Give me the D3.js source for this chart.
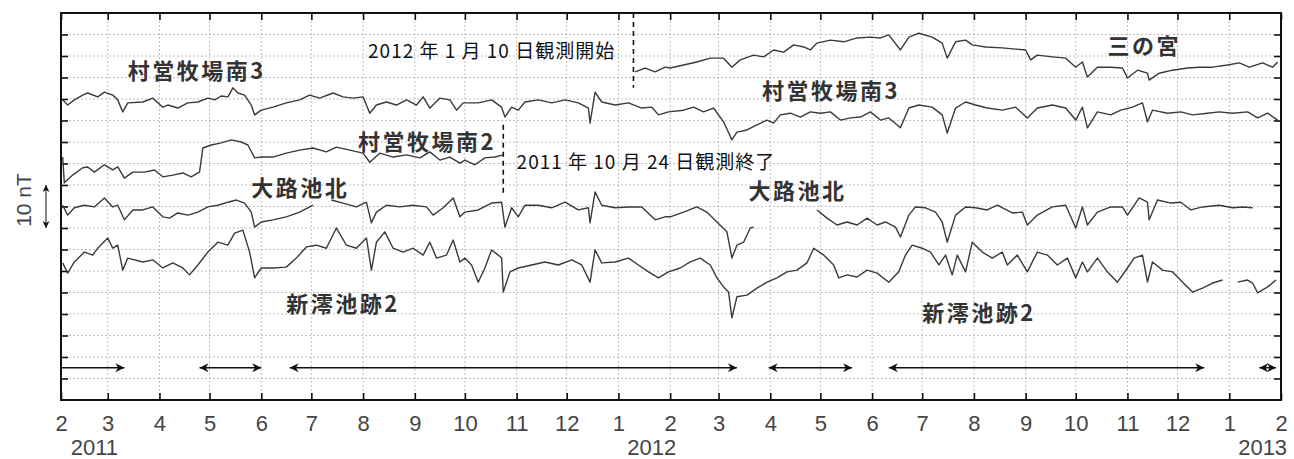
<!DOCTYPE html>
<html>
<head>
<meta charset="utf-8">
<script src="https://cdn.jsdelivr.net/npm/d3@7"></script>
<style>
  body { margin: 0; background: #fff; }
</style>
</head>
<body>
<div id="chart"></div>
<script>
// time axis: Feb 2011 .. Feb 2013, points are [days since 2011-02-01, nT]
const START = new Date(Date.UTC(2011, 1, 1));
const END = new Date(Date.UTC(2013, 1, 1));

// 村営牧場南3
const muraei3 = [[1,69.8],[4,68.6],[8,69.8],[13,70.9],[16,71.4],[22,70.5],[26,71.6],[31,70.9],[34,69.8],[37,67.0],[40,69.1],[49,69.3],[55,70.2],[61,68.1],[64,68.6],[70,67.9],[76,69.1],[82,69.3],[88,70.2],[92,69.8],[96,70.7],[100,70.5],[103,72.6],[106,71.4],[110,70.9],[114,68.6],[116,66.3],[120,67.4],[127,68.1],[135,69.1],[143,69.8],[149,70.9],[155,70.2],[163,71.4],[169,70.5],[175,70.2],[181,70.5],[185,66.7],[189,68.6],[195,69.3],[201,68.6],[207,69.8],[213,68.6],[217,70.5],[221,67.9],[227,70.2],[233,69.8],[237,67.4],[241,69.1],[250,69.1],[258,69.8],[264,68.1],[266,65.8],[270,68.1],[274,67.4],[278,69.3],[286,69.8],[294,69.1],[302,69.8],[310,69.1],[316,67.9],[317,64.4],[320,71.6],[324,69.3],[332,68.6],[340,69.1],[348,67.9],[354,68.1],[358,66.3],[364,67.0],[373,67.4],[379,68.1],[385,67.0],[391,67.9],[397,64.7],[402,60.5],[405,62.3],[411,62.8],[417,64.0],[423,65.1],[427,64.4],[431,66.3],[437,66.7],[443,65.8],[449,67.0],[455,66.7],[461,67.0],[467,65.1],[473,65.6],[479,65.8],[485,67.0],[491,65.1],[496,65.6],[503,63.3],[508,67.9],[514,68.6],[522,68.1],[528,66.3],[531,62.1],[536,67.9],[542,69.3],[548,68.6],[555,67.9],[564,67.4],[572,68.1],[579,65.6],[585,67.9],[594,68.6],[602,67.9],[608,65.1],[612,68.1],[615,63.3],[621,67.0],[629,66.3],[635,67.4],[642,68.1],[648,69.1],[651,64.7],[654,67.4],[663,66.7],[671,67.0],[678,66.3],[687,66.7],[694,67.0],[702,66.7],[711,67.0],[717,65.6],[723,66.7],[729,65.1]];

// 三の宮 (from 2012-01-10)
const sannomiya = [[344,76.3],[350,77.2],[356,76.3],[362,77.4],[365,77.2],[373,77.9],[381,78.6],[389,79.5],[397,79.5],[402,77.4],[407,79.1],[415,80.2],[421,79.8],[427,81.4],[433,80.9],[439,82.6],[445,82.1],[449,81.4],[453,83.0],[461,83.7],[469,83.3],[477,84.2],[485,84.4],[491,84.2],[496,84.9],[503,81.4],[508,84.4],[514,85.3],[522,84.4],[528,83.0],[531,79.5],[536,83.3],[542,83.7],[546,82.6],[554,82.1],[564,81.9],[572,81.6],[578,81.4],[581,79.1],[585,80.2],[594,79.8],[602,79.5],[608,77.4],[612,78.6],[615,75.1],[621,77.4],[629,77.4],[636,77.2],[639,74.9],[645,76.7],[651,76.0],[652,74.4],[658,76.0],[666,76.7],[675,77.2],[682,77.4],[690,77.4],[699,77.9],[706,78.4],[712,77.4],[720,78.4],[726,77.4],[729,78.6]];

// 村営牧場南2 (until 2011-10-24)
const muraei2 = [[1,56.5],[2,50.5],[7,52.3],[13,54.0],[16,54.2],[20,53.0],[26,54.7],[31,53.5],[34,54.2],[38,51.6],[43,53.0],[50,53.0],[56,53.5],[61,51.9],[67,52.3],[73,52.8],[78,51.9],[83,53.0],[85,58.6],[90,59.3],[96,59.8],[102,60.5],[108,60.0],[112,59.3],[116,56.3],[120,56.5],[127,56.5],[135,57.4],[143,58.1],[151,58.6],[159,57.7],[165,58.8],[173,58.1],[181,57.4],[185,55.3],[191,57.4],[199,56.5],[207,57.0],[215,56.3],[221,57.7],[227,55.8],[233,56.5],[239,55.1],[242,55.8],[248,54.7],[254,56.3],[260,56.5],[265,57.0]];

// 大路池北 (null = no data)
const ojiike = [[1,45.3],[4,43.0],[8,44.7],[14,45.3],[20,44.9],[26,47.0],[31,44.9],[34,45.3],[38,41.9],[43,44.2],[49,44.2],[55,44.9],[61,42.6],[65,42.3],[70,43.5],[76,43.0],[82,43.7],[88,44.9],[94,45.3],[100,46.0],[105,46.5],[110,45.8],[114,43.7],[116,40.2],[120,41.4],[127,41.9],[135,42.6],[143,43.7],[151,45.3],[155,null],[162,46.5],[169,45.8],[177,44.9],[183,46.0],[186,41.2],[189,43.7],[195,45.3],[203,44.9],[211,45.3],[219,44.9],[223,43.0],[229,44.7],[235,47.0],[239,42.6],[242,43.7],[250,44.2],[258,45.8],[264,46.0],[266,40.2],[270,44.7],[274,42.6],[278,45.3],[286,45.3],[294,44.7],[302,46.0],[310,44.2],[316,44.7],[317,41.2],[320,48.4],[324,45.3],[332,44.7],[340,44.9],[348,44.9],[356,41.9],[362,42.6],[365,42.6],[373,43.7],[381,44.9],[387,43.7],[393,41.4],[399,39.1],[402,33.0],[405,36.0],[409,36.7],[413,40.0],[415,40.2],[430,null],
  [453,44.2],[459,42.3],[465,40.7],[471,41.4],[477,40.7],[483,42.3],[489,40.7],[494,41.4],[500,40.2],[503,37.9],[508,43.0],[512,44.9],[518,44.7],[524,43.7],[528,41.4],[531,36.7],[536,43.0],[542,44.9],[548,44.7],[555,44.2],[561,45.3],[570,43.5],[576,43.7],[579,40.7],[585,43.0],[594,44.9],[602,45.3],[608,40.0],[612,44.9],[615,40.7],[621,43.7],[629,44.9],[636,44.9],[639,43.0],[646,47.0],[651,46.0],[652,41.9],[657,46.5],[665,45.8],[671,46.0],[677,44.2],[684,44.9],[694,45.3],[702,44.7],[708,44.9],[714,44.7]];

// 新澪池跡2
const niizawa2 = [[1,31.9],[4,29.5],[8,32.1],[14,34.4],[19,33.7],[22,35.3],[28,37.7],[31,35.3],[34,36.0],[37,30.2],[40,33.0],[49,32.1],[55,32.6],[61,30.7],[67,31.9],[73,30.7],[77,29.1],[82,31.4],[88,34.4],[94,36.7],[100,36.0],[104,38.8],[109,39.5],[113,34.4],[116,28.4],[120,30.7],[127,30.7],[135,30.9],[141,33.0],[147,35.6],[153,36.0],[159,35.3],[165,40.0],[171,36.0],[177,35.3],[183,37.7],[186,30.2],[189,36.7],[194,39.1],[199,35.3],[205,34.4],[211,35.3],[217,33.7],[221,36.7],[225,33.0],[231,33.7],[235,37.2],[239,32.1],[242,33.0],[246,31.4],[250,27.4],[254,30.7],[258,34.9],[262,33.7],[264,33.0],[265,25.1],[269,29.8],[274,30.7],[282,31.4],[290,32.1],[298,31.4],[306,32.6],[312,31.4],[317,27.4],[320,34.9],[324,31.9],[332,32.1],[340,33.0],[346,31.4],[352,29.8],[358,28.4],[364,29.8],[371,30.7],[377,32.1],[383,33.0],[389,31.4],[393,28.4],[397,26.3],[400,25.1],[402,19.1],[405,24.0],[411,24.4],[417,26.0],[423,27.4],[429,28.4],[435,29.8],[441,30.2],[447,31.9],[451,35.3],[457,33.7],[463,31.4],[466,28.4],[471,29.1],[477,28.6],[483,30.2],[489,29.5],[496,27.4],[502,29.8],[506,33.7],[510,36.0],[516,35.3],[521,34.4],[526,31.4],[530,33.7],[534,29.1],[537,33.7],[542,29.8],[546,36.7],[552,34.4],[558,33.0],[564,34.4],[567,31.4],[573,33.7],[579,29.8],[585,34.4],[591,33.7],[597,31.4],[603,33.0],[608,28.4],[612,32.1],[615,29.8],[621,33.0],[627,29.8],[633,27.4],[639,30.7],[643,33.0],[648,33.7],[651,27.4],[654,32.1],[660,30.2],[666,29.8],[672,27.4],[678,25.1],[684,26.0],[690,27.2],[696,27.9],[700,null],[705,27.4],[711,27.9],[714,27.2],[717,24.9],[723,26.3],[728,27.9]];

const series = [muraei3, sannomiya, muraei2, ojiike, niizawa2];

// station names: [text, day, nT]
const stationLabels = [
  ['村営牧場南3', 40, 77.0],
  ['村営牧場南3', 420, 72.3],
  ['村営牧場南2', 178, 60.5],
  ['大路池北', 114, 49.8],
  ['大路池北', 412, 49.1],
  ['新澪池跡2', 135, 22.8],
  ['新澪池跡2', 516, 20.7],
  ['三の宮', 627, 82.8]
];

// notes: [text, day, nT]
const notes = [
  ['2012 年 1 月 10 日観測開始', 184, 81.4],
  ['2011 年 10 月 24 日観測終了', 273, 55.6]
];
// dashed markers: [day, nT from, nT to]
const eventLines = [[343, 90, 72.6], [265, 64.0, 47.7]];

// observation periods along the bottom: [start day, end day]
const periods = [[0, 38], [83, 120], [137, 405], [424, 474], [496, 685], [718, 728]];
const periodLevel = 7.5;

const yearLabels = [['2011', 20], ['2012', 354], ['2013', 720]];
const scaleBar = [40, 50]; // 10 nT

const W = 1294, H = 459;
const svg = d3.select('#chart').append('svg')
  .attr('width', W).attr('height', H)
  .style('display', 'block');

const x = d3.scaleUtc().domain([START, END]).range([61, 1281]);
const y = d3.scaleLinear().domain([0, 90]).range([400, 13]);
const day = n => d3.utcDay.offset(START, n);

const months = d3.utcMonth.range(START, d3.utcDay.offset(END, 1));
const yTicks = d3.range(5, 90, 5);

// grid
const grid = svg.append('g')
  .attr('stroke', '#b8b8b8').attr('stroke-width', 0.9).attr('stroke-dasharray', '2,2');
grid.selectAll('.gv').data(months.slice(1, -1)).enter().append('line')
  .attr('x1', d => x(d)).attr('x2', d => x(d))
  .attr('y1', y(90)).attr('y2', y(0));
grid.selectAll('.gh').data(yTicks).enter().append('line')
  .attr('x1', x(START)).attr('x2', x(END))
  .attr('y1', d => y(d)).attr('y2', d => y(d));

// axes (inward ticks)
const bottom = svg.append('g').attr('transform', `translate(0,${y(0)})`)
  .call(d3.axisBottom(x).tickValues(months).tickSize(-7).tickPadding(15)
    .tickFormat(d => d.getUTCMonth() + 1));
svg.append('g').attr('transform', `translate(0,${y(90)})`)
  .call(d3.axisTop(x).tickValues(months).tickSize(-7).tickFormat(''));
svg.append('g').attr('transform', `translate(${x(START)},0)`)
  .call(d3.axisLeft(y).tickValues(yTicks).tickSize(-7).tickFormat(''));
svg.append('g').attr('transform', `translate(${x(END)},0)`)
  .call(d3.axisRight(y).tickValues(yTicks).tickSize(-7).tickFormat(''));
svg.selectAll('.domain').remove();
svg.selectAll('.tick line').attr('stroke', '#111').attr('stroke-width', 1.6);

bottom.selectAll('text')
  .attr('font-family', '"Liberation Sans", Arial, sans-serif')
  .attr('font-size', 22).attr('fill', '#444');

svg.append('g').selectAll('text').data(yearLabels).enter().append('text')
  .attr('x', d => x(day(d[1]))).attr('y', 455)
  .attr('text-anchor', 'middle')
  .attr('font-family', '"Liberation Sans", Arial, sans-serif')
  .attr('font-size', 22).attr('fill', '#444')
  .text(d => d[0]);

// frame
svg.append('rect')
  .attr('x', x(START)).attr('y', y(90))
  .attr('width', x(END) - x(START)).attr('height', y(0) - y(90))
  .attr('fill', 'none').attr('stroke', '#111').attr('stroke-width', 2);

// traces
const line = d3.line()
  .defined(d => d[1] != null)
  .x(d => x(day(d[0])))
  .y(d => y(d[1]));
svg.append('g').selectAll('path').data(series).enter().append('path')
  .attr('d', line)
  .attr('fill', 'none').attr('stroke', '#3a3a3a')
  .attr('stroke-width', 1.4).attr('stroke-linejoin', 'round');

// arrowheads
const defs = svg.append('defs');
function arrowMarker(id, w, h) {
  defs.append('marker')
    .attr('id', id).attr('viewBox', '0 0 10 10')
    .attr('refX', 10).attr('refY', 5)
    .attr('markerWidth', w).attr('markerHeight', h)
    .attr('markerUnits', 'userSpaceOnUse')
    .attr('orient', 'auto-start-reverse')
    .append('path').attr('d', 'M0,0L10,5L0,10L3,5Z').attr('fill', '#111');
}
arrowMarker('ah', 11, 9);
arrowMarker('ahs', 7, 7);

// observation periods
svg.append('g').selectAll('line').data(periods).enter().append('line')
  .attr('x1', d => x(day(d[0]))).attr('x2', d => x(day(d[1])))
  .attr('y1', y(periodLevel)).attr('y2', y(periodLevel))
  .attr('stroke', '#111').attr('stroke-width', 1.4)
  .attr('marker-end', 'url(#ah)')
  .attr('marker-start', d => d[0] === 0 ? null : 'url(#ah)');

// event lines + notes
svg.append('g').selectAll('line').data(eventLines).enter().append('line')
  .attr('x1', d => x(day(d[0]))).attr('x2', d => x(day(d[0])))
  .attr('y1', d => y(d[1])).attr('y2', d => y(d[2]))
  .attr('stroke', '#111').attr('stroke-width', 1.6).attr('stroke-dasharray', '5,4');

svg.append('g').selectAll('text').data(notes).enter().append('text')
  .attr('x', d => x(day(d[1]))).attr('y', d => y(d[2]))
  .attr('dominant-baseline', 'central')
  .attr('font-family', '"Noto Sans CJK JP", sans-serif')
  .attr('font-size', 19).attr('letter-spacing', 1).attr('fill', '#111')
  .text(d => d[0]);

// station names
svg.append('g').selectAll('text').data(stationLabels).enter().append('text')
  .attr('x', d => x(day(d[1]))).attr('y', d => y(d[2]))
  .attr('dominant-baseline', 'central')
  .attr('font-family', '"Noto Sans CJK JP", sans-serif')
  .attr('font-weight', 'bold').attr('font-size', 22).attr('letter-spacing', 2.5)
  .attr('fill', '#333')
  .text(d => d[0]);

// 10 nT scale bar
svg.append('line')
  .attr('x1', 46).attr('x2', 46)
  .attr('y1', y(scaleBar[0])).attr('y2', y(scaleBar[1]))
  .attr('stroke', '#444').attr('stroke-width', 1.3)
  .attr('marker-start', 'url(#ahs)').attr('marker-end', 'url(#ahs)');
svg.append('text')
  .attr('transform', 'translate(23,200) rotate(-90)')
  .attr('text-anchor', 'middle').attr('dominant-baseline', 'central')
  .attr('font-family', '"Liberation Sans", Arial, sans-serif')
  .attr('font-size', 21).attr('fill', '#444')
  .text('10 nT');
</script>
</body>
</html>
